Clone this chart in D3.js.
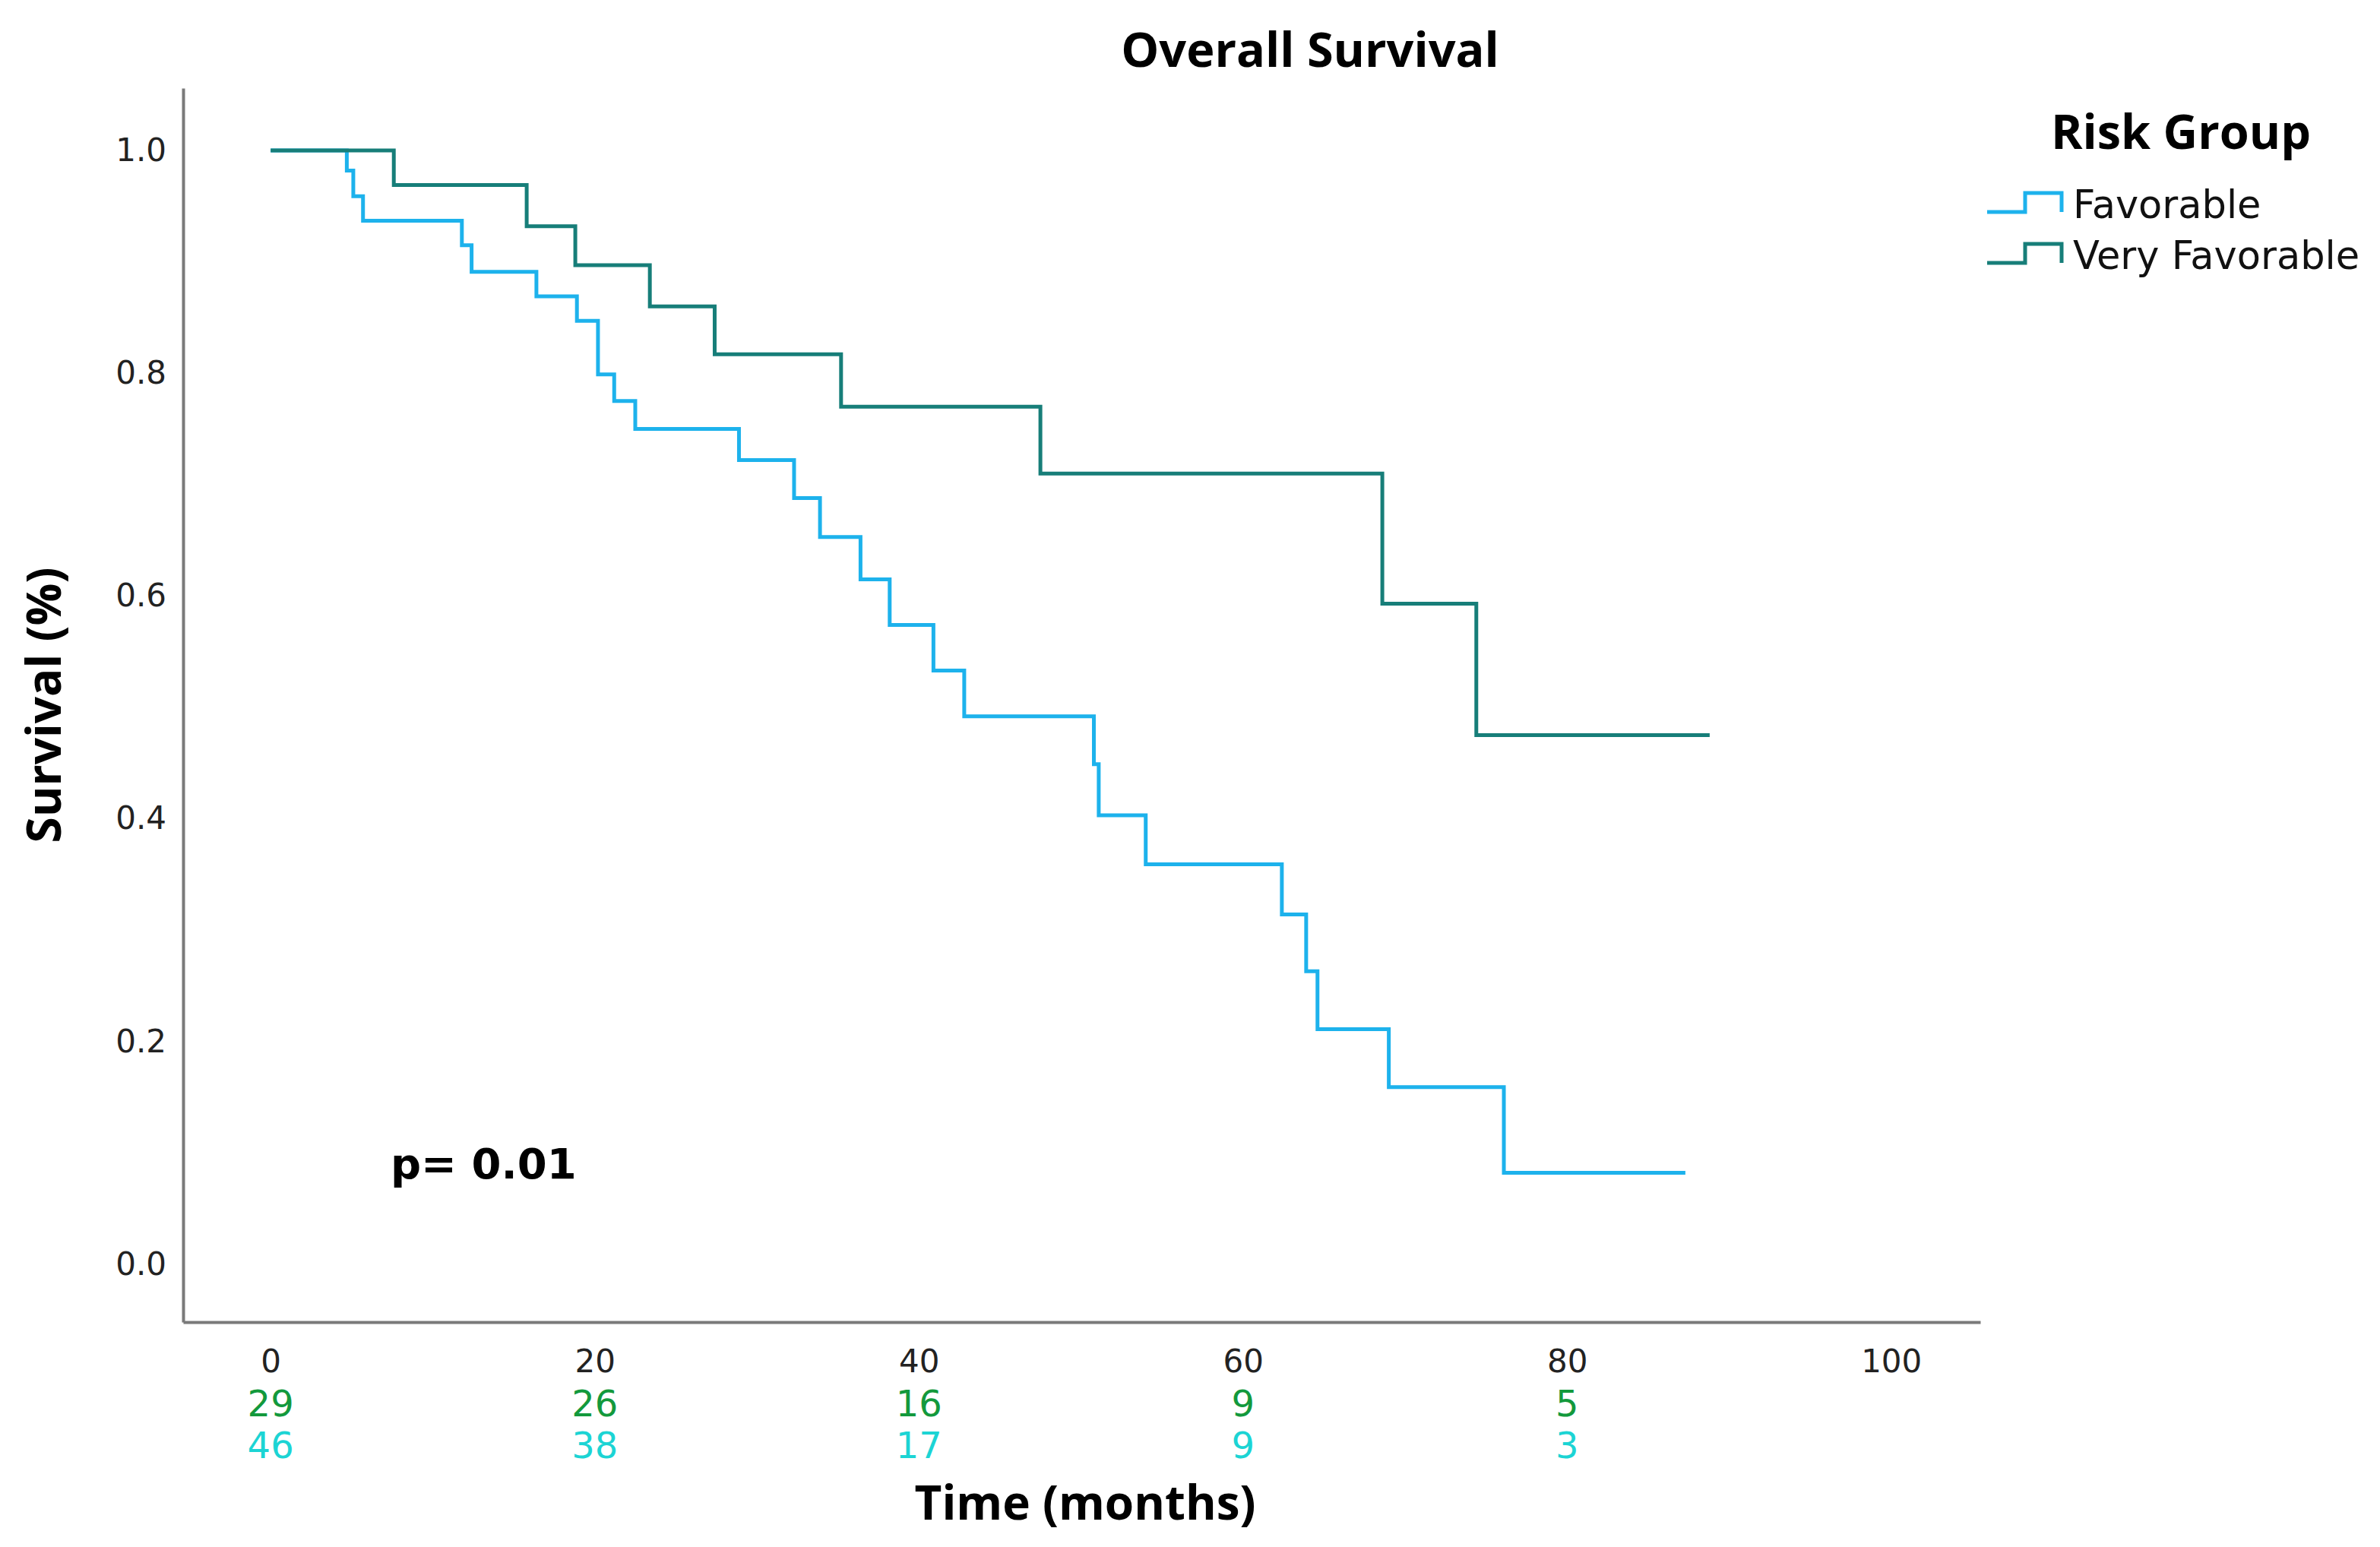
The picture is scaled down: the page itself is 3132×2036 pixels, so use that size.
<!DOCTYPE html>
<html>
<head>
<meta charset="utf-8">
<script src="https://cdn.jsdelivr.net/npm/d3@7/dist/d3.min.js"></script>
<style>
  body { margin: 0; background: #fff; }
</style>
</head>
<body>
<div id="chart"></div>
<script>
// Kaplan-Meier steps (time in months, survival)
var favTimes = [0, 4.7, 5.1, 5.7, 11.8, 12.4, 16.4, 18.9, 20.2, 21.2, 22.5, 28.9, 32.3, 33.9,
  36.4, 38.2, 40.9, 42.8, 50.8, 51.1, 54.0, 62.4, 63.9, 64.6, 69.0, 76.1, 87.3];
var favSurv = [1.0, 0.982, 0.959, 0.937, 0.915, 0.891, 0.869, 0.847, 0.799, 0.775, 0.750, 0.722, 0.688, 0.653,
  0.615, 0.574, 0.533, 0.492, 0.449, 0.403, 0.359, 0.314, 0.263, 0.211, 0.159, 0.082, 0.082];

var vfavTimes = [0, 7.6, 15.8, 18.8, 23.4, 27.4, 35.2, 47.5, 68.6, 74.4, 88.8];
var vfavSurv = [1.0, 0.969, 0.932, 0.897, 0.860, 0.817, 0.770, 0.710, 0.593, 0.475, 0.475];

var groups = ["Favorable", "Very Favorable"];
var groupColors = ["#1db2ec", "#177e79"];

// numbers at risk
var riskTimes = [0, 20, 40, 60, 80];
var riskVeryFav = [29, 26, 16, 9, 5];
var riskFav = [46, 38, 17, 9, 3];

var xTicks = [0, 20, 40, 60, 80, 100];
var yTicks = [0, 0.2, 0.4, 0.6, 0.8, 1.0];

function init() {
  var w = 3132;
  var h = 2036;

  var svg = d3.select("#chart")
    .append("svg")
    .attr("width", w)
    .attr("height", h);

  var xScale = d3.scaleLinear()
    .domain([-5.4, 105.5])
    .range([241, 2606]);

  var yScale = d3.scaleLinear()
    .domain([-0.052, 1.056])
    .range([1740, 116]);

  var line = d3.line()
    .x(d => xScale(d.t))
    .y(d => yScale(d.s))
    .curve(d3.curveStepAfter);

  var series = [
    favTimes.map((t, i) => ({ t: t, s: favSurv[i] })),
    vfavTimes.map((t, i) => ({ t: t, s: vfavSurv[i] }))
  ];

  // axes
  var xAxis = svg.append("g")
    .attr("transform", `translate(0,${yScale.range()[0]})`)
    .call(d3.axisBottom(xScale).tickValues(xTicks).tickSize(0).tickSizeOuter(0).tickPadding(36));

  var yAxis = svg.append("g")
    .attr("transform", `translate(${xScale.range()[0]},0)`)
    .call(d3.axisLeft(yScale).tickValues(yTicks).tickFormat(d3.format(".1f")).tickSize(0).tickSizeOuter(0).tickPadding(22));

  [xAxis, yAxis].forEach(function(g) {
    g.select(".domain").attr("stroke", "#7a7a7a").attr("stroke-width", 4);
    g.selectAll("text")
      .attr("font-family", "DejaVu Sans")
      .attr("font-size", 42)
      .attr("fill", "#222");
  });

  // survival curves
  svg.selectAll("path.km")
    .data(series)
    .enter()
    .append("path")
    .attr("class", "km")
    .attr("fill", "none")
    .attr("stroke", (d, i) => groupColors[i])
    .attr("stroke-width", 5)
    .attr("d", line);

  // numbers at risk
  svg.selectAll("text.riskvf")
    .data(riskVeryFav)
    .enter()
    .append("text")
    .attr("class", "riskvf")
    .attr("x", (d, i) => xScale(riskTimes[i]))
    .attr("y", 1864)
    .attr("text-anchor", "middle")
    .attr("font-family", "DejaVu Sans")
    .attr("font-size", 48)
    .attr("fill", "#13993c")
    .text(d => d);

  svg.selectAll("text.riskf")
    .data(riskFav)
    .enter()
    .append("text")
    .attr("class", "riskf")
    .attr("x", (d, i) => xScale(riskTimes[i]))
    .attr("y", 1919)
    .attr("text-anchor", "middle")
    .attr("font-family", "DejaVu Sans")
    .attr("font-size", 48)
    .attr("fill", "#1cd4d4")
    .text(d => d);

  // titles
  svg.append("text")
    .attr("x", 1724)
    .attr("y", 88)
    .attr("text-anchor", "middle")
    .attr("font-family", "Open Sans")
    .attr("font-weight", "bold")
    .attr("font-size", 63)
    .text("Overall Survival");

  svg.append("text")
    .attr("x", 1428)
    .attr("y", 2000)
    .attr("text-anchor", "middle")
    .attr("font-family", "Open Sans")
    .attr("font-weight", "bold")
    .attr("font-size", 62)
    .text("Time (months)");

  svg.append("text")
    .attr("transform", "translate(80,928) rotate(-90)")
    .attr("text-anchor", "middle")
    .attr("font-family", "Open Sans")
    .attr("font-weight", "bold")
    .attr("font-size", 62)
    .text("Survival (%)");

  svg.append("text")
    .attr("x", 514)
    .attr("y", 1551)
    .attr("font-family", "DejaVu Sans")
    .attr("font-weight", "bold")
    .attr("font-size", 56)
    .text("p= 0.01");

  // legend
  var legend = svg.append("g");

  legend.append("text")
    .attr("x", 2870)
    .attr("y", 196)
    .attr("text-anchor", "middle")
    .attr("font-family", "Open Sans")
    .attr("font-weight", "bold")
    .attr("font-size", 63)
    .text("Risk Group");

  var symbol = d3.line();

  groups.forEach(function(name, i) {
    var base = 279 + i * 67;
    legend.append("path")
      .attr("fill", "none")
      .attr("stroke", groupColors[i])
      .attr("stroke-width", 5)
      .attr("d", symbol([[2615, base], [2665, base], [2665, base - 25], [2713, base - 25], [2713, base]]));

    legend.append("text")
      .attr("x", 2728)
      .attr("y", base + 8)
      .attr("font-family", "DejaVu Sans")
      .attr("font-size", 51)
      .attr("fill", "#111")
      .text(name);
  });
}

window.onload = init;
</script>
</body>
</html>
